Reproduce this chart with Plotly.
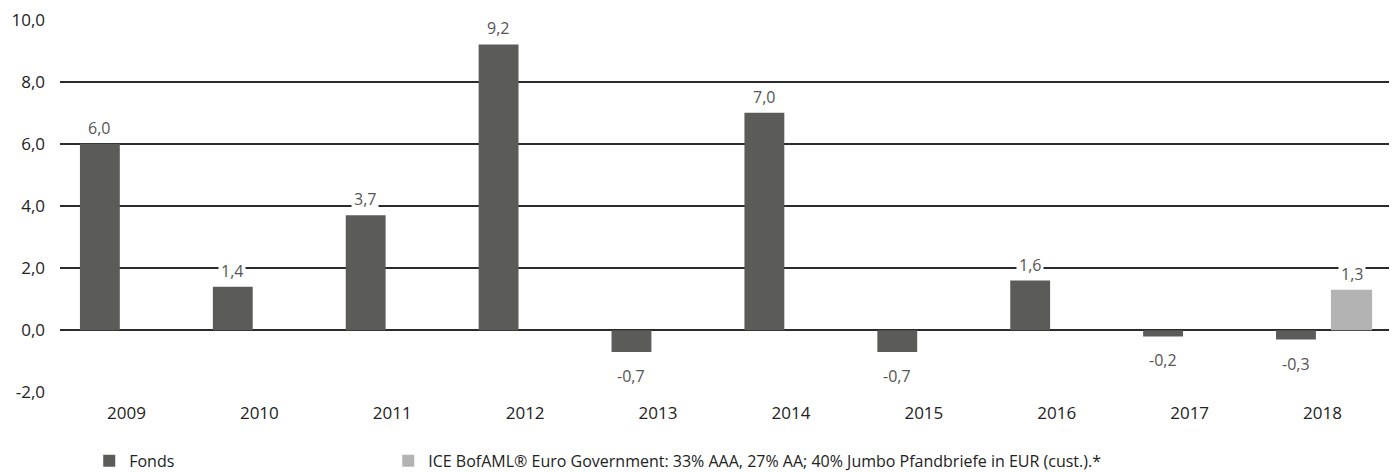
import plotly.graph_objects as go

years = ["2009", "2010", "2011", "2012", "2013", "2014", "2015", "2016", "2017", "2018"]
fonds = [6.0, 1.4, 3.7, 9.2, -0.7, 7.0, -0.7, 1.6, -0.2, -0.3]
bench = [None, None, None, None, None, None, None, None, None, 1.3]
fonds_name = "Fonds"
bench_name = "ICE BofAML® Euro Government: 33% AAA, 27% AA; 40% Jumbo Pfandbriefe in EUR (cust.).*"
y_ticks = [-2, 0, 2, 4, 6, 8, 10]

FONDS_C = "#5b5b5a"
BENCH_C = "#b3b3b3"
FONT = "Open Sans"


def fmt(v):
    return f"{v:.1f}".replace(".", ",")


fig = go.Figure()
fig.add_trace(go.Bar(x=years, y=fonds, name=fonds_name, marker_color=FONDS_C,
                     width=0.30, offset=-0.35, marker_line_width=0, legend="legend"))
fig.add_trace(go.Bar(x=years, y=bench, name=bench_name, marker_color=BENCH_C,
                     width=0.31, offset=0.063, marker_line_width=0, legend="legend2"))


def add_label(i, v, shift):
    if v is None:
        return
    pos = v >= 0
    fig.add_annotation(x=i, y=v, text=fmt(v), showarrow=False,
                       xshift=shift, yshift=2 if pos else -10,
                       yanchor="bottom" if pos else "top",
                       font=dict(family=FONT, size=16, color="#555555"),
                       bgcolor="white", borderpad=2)


for i, v in enumerate(fonds):
    add_label(i, v, -27)
for i, v in enumerate(bench):
    add_label(i, v, 29)

leg_common = dict(orientation="h", y=-0.136, xanchor="left", yanchor="top",
                  itemwidth=30, font=dict(family=FONT, size=16, color="#222222"),
                  bgcolor="rgba(0,0,0,0)")
fig.update_layout(
    width=1395, height=472,
    margin=dict(l=60, r=6, t=19, b=79, autoexpand=False),
    paper_bgcolor="white", plot_bgcolor="white",
    separators=",.",
    barmode="overlay",
    showlegend=True,
    legend=dict(x=0.022, **leg_common),
    legend2=dict(x=0.247, **leg_common),
    font=dict(family=FONT, size=16, color="#222222"),
)
fig.update_xaxes(type="category", range=[-0.5, 9.5], showgrid=False, showline=False,
                 zeroline=False, ticks="", ticklabelstandoff=8, automargin=False,
                 tickfont=dict(family=FONT, size=17, color="#222222"))
fig.update_yaxes(range=[-2.02, 10.02], tickvals=y_ticks, ticktext=[fmt(t) for t in y_ticks],
                 showgrid=True, gridcolor="#2b2b2b", gridwidth=2,
                 zeroline=True, zerolinecolor="#2b2b2b", zerolinewidth=2,
                 showline=False, ticks="", ticklabelstandoff=14, automargin=False,
                 tickfont=dict(family=FONT, size=17, color="#222222"))

fig.write_html("out.html", config={"displayModeBar": False},
               post_script="document.body.style.margin='0';document.body.style.overflow='hidden';")
